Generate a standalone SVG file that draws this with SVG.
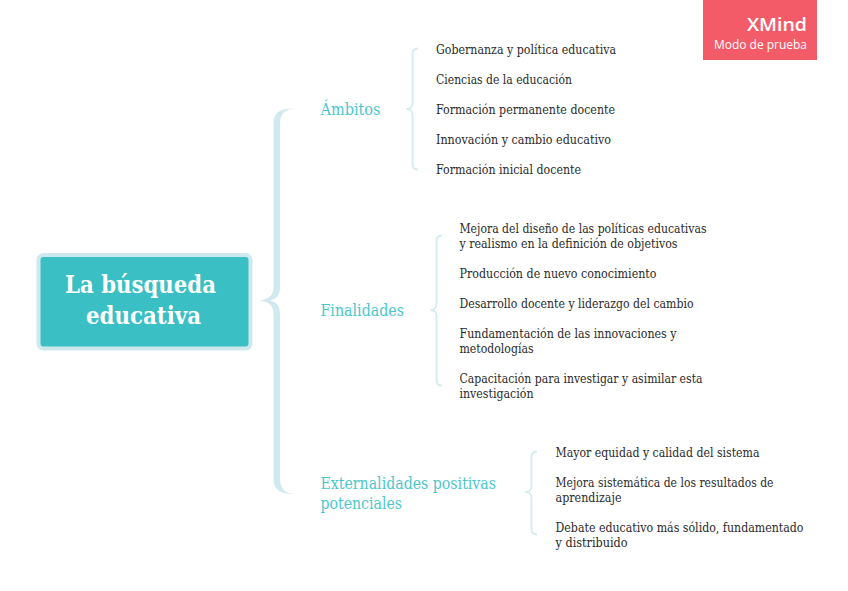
<svg xmlns="http://www.w3.org/2000/svg" width="848" height="591" viewBox="0 0 848 591">
<style>
text{font-family:"DejaVu Serif","Liberation Serif",serif}
.l{font-size:12.500px;fill:#2b2b2b}
.m{font-size:16px;fill:#4cc7cc}
.r{font-size:23.500px;font-weight:700;fill:#fff}
.b{fill:#cfe9ee}
.s{fill:none;stroke:#d3ecf1;stroke-width:1.800}
.x{font-family:"Open Sans","Noto Sans",sans-serif;fill:#fff;text-anchor:end}
</style>
<rect width="848" height="591" fill="#fff"/>
<g id="connectors">
<path class="b" d="M294 108.500C282 108.500 273.500 111 273.500 124V286C273.500 295 270 299 260 300.500C270 302 273.500 306 273.500 315V478C273.500 491 282 494 294 494C286 493 280 490 280 478V315C280 306 277 302 270 300.500C277 299 280 295 280 286V124C280 112 286 109.500 294 108.500Z"/>
<path class="s" d="M418 48.500C414 48.500 412.500 50 412.500 54V103C412.500 107 411 108.500 406.500 109C411 109.500 412.500 111 412.500 115V164C412.500 168 414 169.500 418 169.500"/>
<path class="s" d="M442 235.500C438 235.500 436.500 237 436.500 241V304C436.500 308 435 309.500 430.500 310C435 310.500 436.500 312 436.500 316V380C436.500 384 438 385.500 442 385.500"/>
<path class="s" d="M537 451.500C533 451.500 531.500 453 531.500 457V486C531.500 490 530 491.500 525.500 492C530 492.500 531.500 494 531.500 498V529C531.500 533 533 534.500 537 534.500"/>
</g>
<g id="root">
<rect x="38.500" y="255" width="212" height="93.500" rx="5" fill="#3abfc4" stroke="#cde9ee" stroke-width="4"/>
<text class="r" x="65" y="293" textLength="151" lengthAdjust="spacingAndGlyphs">La búsqueda</text>
<text class="r" x="86" y="324" textLength="115" lengthAdjust="spacingAndGlyphs">educativa</text>
</g>
<g id="ambitos"><text class="m" x="320.500" y="114.500" textLength="60" lengthAdjust="spacingAndGlyphs">Ámbitos</text></g>
<g id="finalidades"><text class="m" x="320.500" y="315.500" textLength="83.500" lengthAdjust="spacingAndGlyphs">Finalidades</text></g>
<g id="externalidades">
<text class="m" x="320.500" y="489" textLength="175.500" lengthAdjust="spacingAndGlyphs">Externalidades positivas</text>
<text class="m" x="320.500" y="509" textLength="81.500" lengthAdjust="spacingAndGlyphs">potenciales</text>
</g>
<g id="a1"><text class="l" x="436" y="53.500" textLength="180" lengthAdjust="spacingAndGlyphs">Gobernanza y política educativa</text></g>
<g id="a2"><text class="l" x="436" y="83.500" textLength="136" lengthAdjust="spacingAndGlyphs">Ciencias de la educación</text></g>
<g id="a3"><text class="l" x="436" y="113.500" textLength="179" lengthAdjust="spacingAndGlyphs">Formación permanente docente</text></g>
<g id="a4"><text class="l" x="436" y="143.500" textLength="175" lengthAdjust="spacingAndGlyphs">Innovación y cambio educativo</text></g>
<g id="a5"><text class="l" x="436" y="173.500" textLength="145" lengthAdjust="spacingAndGlyphs">Formación inicial docente</text></g>
<g id="f1">
<text class="l" x="459.500" y="232.500" textLength="247" lengthAdjust="spacingAndGlyphs">Mejora del diseño de las políticas educativas</text>
<text class="l" x="459.500" y="247.500" textLength="218" lengthAdjust="spacingAndGlyphs">y realismo en la definición de objetivos</text>
</g>
<g id="f2"><text class="l" x="459.500" y="277.500" textLength="197" lengthAdjust="spacingAndGlyphs">Producción de nuevo conocimiento</text></g>
<g id="f3"><text class="l" x="459.500" y="307.500" textLength="234" lengthAdjust="spacingAndGlyphs">Desarrollo docente y liderazgo del cambio</text></g>
<g id="f4">
<text class="l" x="459.500" y="337.500" textLength="217" lengthAdjust="spacingAndGlyphs">Fundamentación de las innovaciones y</text>
<text class="l" x="459.500" y="352.500" textLength="74" lengthAdjust="spacingAndGlyphs">metodologías</text>
</g>
<g id="f5">
<text class="l" x="459.500" y="382.500" textLength="243" lengthAdjust="spacingAndGlyphs">Capacitación para investigar y asimilar esta</text>
<text class="l" x="459.500" y="397.500" textLength="74" lengthAdjust="spacingAndGlyphs">investigación</text>
</g>
<g id="e1"><text class="l" x="555.500" y="456.500" textLength="204" lengthAdjust="spacingAndGlyphs">Mayor equidad y calidad del sistema</text></g>
<g id="e2">
<text class="l" x="555.500" y="486.500" textLength="218" lengthAdjust="spacingAndGlyphs">Mejora sistemática de los resultados de</text>
<text class="l" x="555.500" y="501.500" textLength="66" lengthAdjust="spacingAndGlyphs">aprendizaje</text>
</g>
<g id="e3">
<text class="l" x="555.500" y="531.500" textLength="248" lengthAdjust="spacingAndGlyphs">Debate educativo más sólido, fundamentado</text>
<text class="l" x="555.500" y="546.500" textLength="72" lengthAdjust="spacingAndGlyphs">y distribuido</text>
</g>
<g id="watermark">
<rect x="703" y="0" width="114" height="60" fill="#f45b69"/>
<text class="x" x="807" y="31" font-size="18.500" font-weight="600" textLength="60" lengthAdjust="spacingAndGlyphs">XMind</text>
<text class="x" x="807" y="49" font-size="12" textLength="93" lengthAdjust="spacingAndGlyphs">Modo de prueba</text>
</g>
</svg>
